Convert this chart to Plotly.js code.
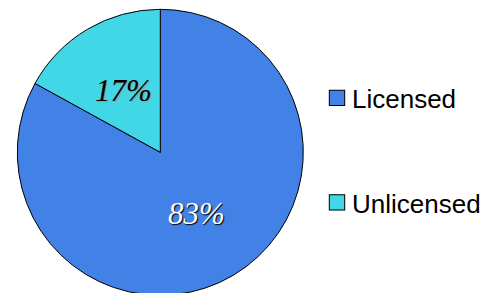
<!DOCTYPE html>
<html>
<head>
<meta charset="utf-8">
<script src="https://cdn.plot.ly/plotly-3.0.1.min.js"></script>
<style>
html,body{margin:0;padding:0;overflow:hidden;background:#fff;}
#chart{width:497px;height:310px;}
</style>
</head>
<body>
<div id="chart"></div>
<script>
const categories = ["Licensed", "Unlicensed"];
const shares = [83, 17];
const sliceColors = ["#4281E5", "#41D7E6"];
const labelColors = ["#ffffff", "#000000"];
const labelShadows = ["1px 1px 1px #000000", "1px 1px 1px #999999"];

const W = 497, H = 310;
const pieLeft = 17.3, pieRight = 303.3, pieTop = 9.3, pieBottom = 295.3;
const cx = (pieLeft + pieRight) / 2, cy = (pieTop + pieBottom) / 2, rad = (pieRight - pieLeft) / 2;

const trace = {
  type: "pie",
  labels: categories,
  values: shares,
  sort: false,
  direction: "clockwise",
  rotation: 0,
  marker: {colors: sliceColors, line: {color: "#000000", width: 1}},
  textinfo: "none",
  hoverinfo: "none",
  domain: {x: [pieLeft / W, pieRight / W], y: [1 - pieBottom / H, 1 - pieTop / H]}
};

// percentage labels placed at half radius on each slice's mid-angle
const total = shares.reduce((a, b) => a + b, 0);
let cum = 0;
const annotations = shares.map(function (v, i) {
  const mid = (cum + v / 2) / total;
  cum += v;
  const th = 2 * Math.PI * mid;
  const px = cx + 0.5 * rad * Math.sin(th);
  const py = cy - 0.5 * rad * Math.cos(th);
  return {
    xref: "paper", yref: "paper", x: px / W, y: 1 - py / H,
    xanchor: "center", yanchor: "middle", showarrow: false,
    text: Math.round(v / total * 100) + "%",
    font: {family: "Liberation Serif", size: 31, style: "italic", color: labelColors[i], shadow: labelShadows[i]}
  };
});

const layout = {
  width: W, height: H,
  margin: {l: 0, r: 0, t: 0, b: 0},
  paper_bgcolor: "#ffffff",
  showlegend: true,
  annotations: annotations,
  legend: {
    x: 312 / W, xanchor: "left", y: 1 - 116.5 / H, yanchor: "middle",
    font: {family: "Liberation Sans", size: 26, color: "#000000"},
    bgcolor: "rgba(0,0,0,0)"
  }
};
Plotly.newPlot("chart", [trace], layout, {staticPlot: true, displayModeBar: false}).then(function (gd) {
  gd.querySelectorAll(".legend .scrollbox").forEach(function (e) { e.removeAttribute("clip-path"); });
  gd.querySelectorAll(".legendpoints path").forEach(function (p) {
    const t = p.getAttribute("transform") || "";
    p.setAttribute("transform", t + " translate(5,0) scale(1.28)");
    p.style.strokeWidth = "0.8px";
  });
  const items = gd.querySelectorAll(".legend .traces");
  if (items.length > 1) {
    const get = el => { const m = /translate\(\s*([-\d.]+)[ ,]+([-\d.]+)/.exec(el.getAttribute("transform") || ""); return m ? [parseFloat(m[1]), parseFloat(m[2])] : [0, 0]; };
    const a = get(items[0]), b = get(items[1]);
    items[1].setAttribute("transform", "translate(" + b[0] + "," + (a[1] + 104.5) + ")");
  }
});
</script>
</body>
</html>
